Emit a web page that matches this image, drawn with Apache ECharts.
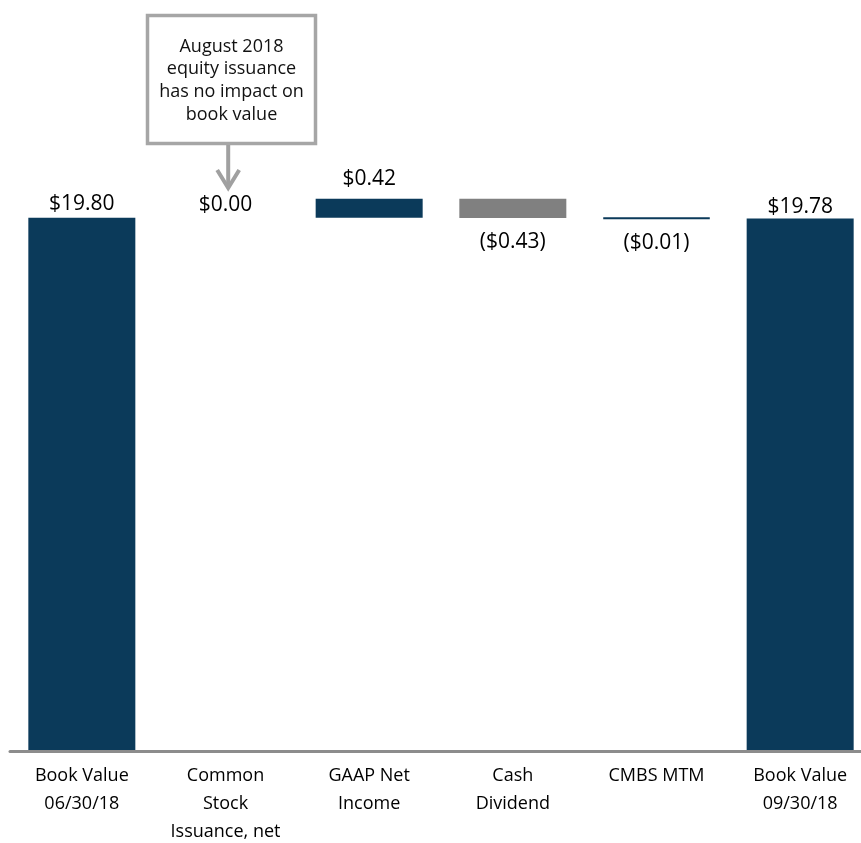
<!DOCTYPE html>
<html>
<head>
<meta charset="utf-8">
<title>Book Value Roll-Forward</title>
<script src="https://cdn.jsdelivr.net/npm/echarts@6/dist/echarts.min.js"></script>
<style>
  html, body { margin: 0; padding: 0; background: #ffffff; }
  #chart { width: 861px; height: 843px; }
</style>
</head>
<body>
<div id="chart"></div>
<script>
// Waterfall steps, per share
const categories = ['Book Value\n06/30/18', 'Common\nStock\nIssuance, net', 'GAAP Net\nIncome', 'Cash\nDividend', 'CMBS MTM', 'Book Value\n09/30/18'];
const changes = [19.80, 0.00, 0.42, -0.43, -0.01, 19.78];
const isTotal = [true, false, false, false, false, true];
const annotationLines = ['August 2018', 'equity issuance', 'has no impact on', 'book value'];

// Styling per step
const NAVY = '#0b3a5a';
const GREY = '#808080';
const barColors = [NAVY, NAVY, NAVY, GREY, NAVY, NAVY];
const labelGap = [3, 2, 9, 13, 13, 1];

// Floating bars: an invisible base plus the visible step
const baseVals = [];
const stepVals = [];
let running = 0;
changes.forEach((v, i) => {
  if (isTotal[i]) {
    baseVals.push(0);
    stepVals.push(v);
    running = v;
  } else {
    const end = running + v;
    baseVals.push(+Math.min(running, end).toFixed(4));
    stepVals.push(+Math.abs(v).toFixed(4));
    running = end;
  }
});

function money(v) {
  const s = '$' + Math.abs(v).toFixed(2);
  return v < 0 ? '(' + s + ')' : s;
}

const chart = echarts.init(document.getElementById('chart'), null, { renderer: 'canvas' });

const stepData = stepVals.map((h, i) => {
  const neg = changes[i] < 0;
  const item = {
    value: h,
    itemStyle: { color: barColors[i] },
    label: {
      show: true,
      position: neg ? 'bottom' : 'top',
      distance: labelGap[i]
    }
  };
  // very small steps get an outline so they stay visible as a thin rule
  if (!isTotal[i] && Math.abs(changes[i]) < 0.05 && changes[i] !== 0) {
    item.itemStyle.borderColor = barColors[i];
    item.itemStyle.borderWidth = 2;
  }
  return item;
});

chart.setOption({
  animation: false,
  backgroundColor: '#ffffff',
  grid: { left: 10, width: 862, top: 186, bottom: 92, outerBoundsMode: 'none', containLabel: false },
  xAxis: {
    type: 'category',
    data: categories,
    z: 10,
    axisTick: { show: false },
    axisLine: { lineStyle: { color: '#8c8c8c', width: 3 } },
    axisLabel: {
      interval: 0,
      margin: 11,
      color: '#000000',
      fontFamily: '"Open Sans", sans-serif',
      fontSize: 18,
      lineHeight: 28
    }
  },
  yAxis: {
    type: 'value',
    min: 8,
    max: 20.5,
    show: false,
    splitLine: { show: false }
  },
  series: [
    {
      name: 'base',
      type: 'bar',
      stack: 'wf',
      barWidth: 107,
      silent: true,
      itemStyle: { color: 'transparent' },
      data: baseVals
    },
    {
      name: 'step',
      type: 'bar',
      stack: 'wf',
      barWidth: 107,
      label: {
        color: '#000000',
        fontFamily: '"Open Sans", sans-serif',
        fontSize: 21,
        lineHeight: 21,
        formatter: p => money(changes[p.dataIndex])
      },
      data: stepData
    }
  ]
});

// Call-out box with a pointer down to the share issuance step
const cx = chart.convertToPixel({ xAxisIndex: 0 }, categories[1]);
const boxX = cx - 78, boxY = 15.5, boxW = 168, boxH = 128;
const arrowX = cx + 2.7, tipY = 189;
chart.setOption({
  graphic: [
    {
      type: 'rect',
      shape: { x: boxX, y: boxY, width: boxW, height: boxH },
      style: { fill: '#ffffff', stroke: '#a6a6a6', lineWidth: 3.5 }
    },
    {
      type: 'text',
      x: boxX + boxW / 2,
      y: boxY + boxH / 2 + 1,
      style: {
        text: annotationLines.join('\n'),
        align: 'center',
        verticalAlign: 'middle',
        fill: '#111111',
        font: '18px "Open Sans", sans-serif',
        lineHeight: 22.7
      }
    },
    {
      type: 'line',
      shape: { x1: arrowX, y1: boxY + boxH + 1.5, x2: arrowX, y2: tipY - 2 },
      style: { stroke: '#a0a0a0', lineWidth: 4 }
    },
    {
      type: 'polyline',
      shape: { points: [[arrowX - 11, tipY - 19], [arrowX, tipY - 1], [arrowX + 11, tipY - 19]] },
      style: { stroke: '#a0a0a0', lineWidth: 4, fill: null, lineJoin: 'miter' }
    }
  ]
});
</script>
</body>
</html>
